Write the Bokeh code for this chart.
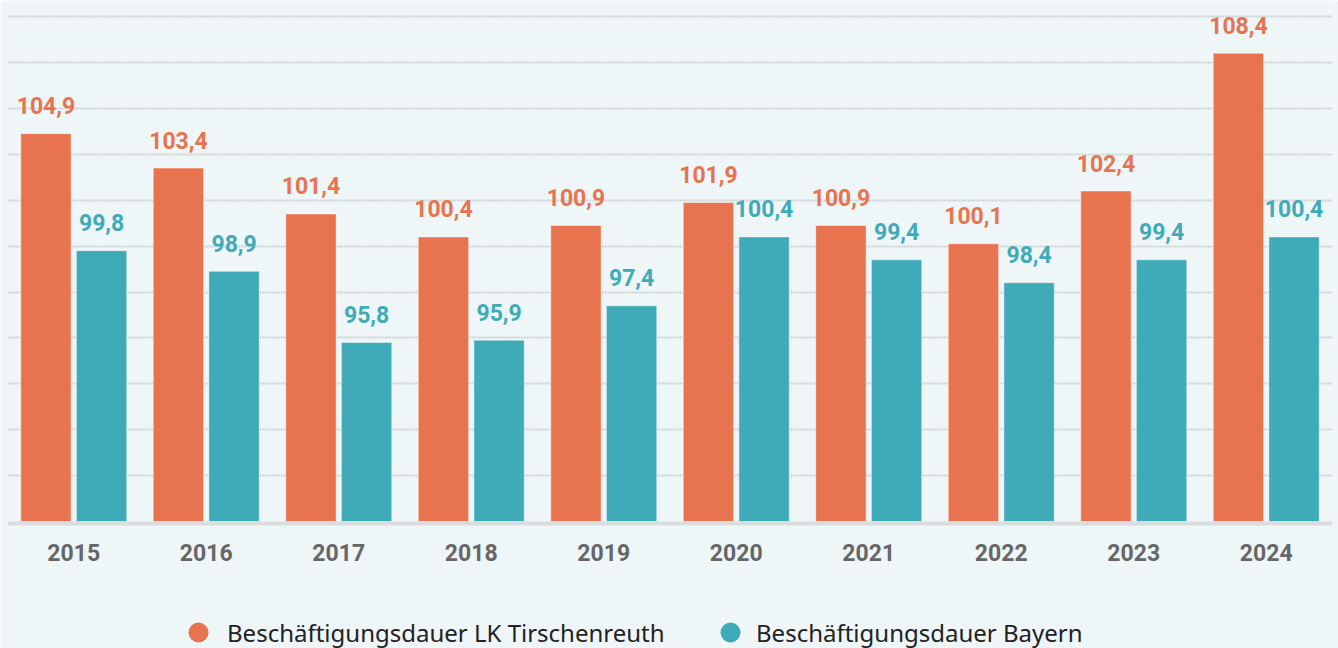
from bokeh.plotting import figure
from bokeh.models import ColumnDataSource, FactorRange, Range1d, FixedTicker, Legend, LegendItem
from bokeh.transform import dodge
from bokeh.core.properties import value
from bokeh.embed import file_html
from bokeh.resources import INLINE

# ---- data ----
years = ["2015", "2016", "2017", "2018", "2019", "2020", "2021", "2022", "2023", "2024"]
lk_values = [104.9, 103.4, 101.4, 100.4, 100.9, 101.9, 100.9, 100.1, 102.4, 108.4]
by_values = [99.8, 98.9, 95.8, 95.9, 97.4, 100.4, 99.4, 98.4, 99.4, 100.4]
series_names = ["Beschäftigungsdauer LK Tirschenreuth", "Beschäftigungsdauer Bayern"]
grid_ticks = [90, 92, 94, 96, 98, 100, 102, 104, 106, 108, 110]
baseline = 88

ORANGE = "#E8744F"
TEAL = "#3FABB8"
BG = "#EEF6F8"


def fmt(v):
    return f"{v:.1f}".replace(".", ",")


src = ColumnDataSource(dict(
    year=years,
    lk=lk_values,
    by=by_values,
    lk_label=[fmt(v) for v in lk_values],
    by_label=[fmt(v) for v in by_values],
))

px_per_unit = 22.95
H = 648
base_px = 521  # pixel row of the bar baseline
p = figure(
    x_range=FactorRange(*years),
    y_range=Range1d(baseline - (H - base_px) / px_per_unit, baseline + base_px / px_per_unit),
    width=1338, height=H,
    output_backend="svg", toolbar_location=None,
    y_axis_location=None,
    min_border_left=7, min_border_right=6, min_border_top=0, min_border_bottom=0,
    background_fill_color=BG, border_fill_color=BG, outline_line_color=None,
)

p.xgrid.visible = False
p.ygrid.ticker = FixedTicker(ticks=grid_ticks)
p.ygrid.grid_line_color = "#CDD1D3"
p.ygrid.grid_line_dash = "2 1"
p.ygrid.grid_line_width = 2

bw = 0.38
x_lk = dodge("year", -0.21, range=p.x_range)
x_by = dodge("year", 0.21, range=p.x_range)
r_lk = p.vbar(x=x_lk, top="lk", bottom=baseline, width=bw,
              source=src, fill_color=ORANGE, line_color="white", line_alpha=0.45, line_width=1)
r_by = p.vbar(x=x_by, top="by", bottom=baseline, width=bw,
              source=src, fill_color=TEAL, line_color="white", line_alpha=0.45, line_width=1)

p.text(x=x_lk, y="lk", text="lk_label", source=src,
       text_align="center", text_baseline="middle", y_offset=-28,
       text_font=value("Roboto"), text_font_style="bold", text_font_size="23px", text_color=ORANGE)
p.text(x=x_by, y="by", text="by_label", source=src,
       text_align="center", text_baseline="middle", y_offset=-28,
       text_font=value("Roboto"), text_font_style="bold", text_font_size="23px", text_color=TEAL)

ax = p.xaxis[0]
ax.fixed_location = baseline - 2 / px_per_unit
ax.axis_line_color = "#DADDDE"
ax.axis_line_width = 4
ax.major_tick_line_color = None
ax.minor_tick_line_color = None
ax.major_label_standoff = 14
ax.major_label_text_font = "Roboto"
ax.major_label_text_font_style = "bold"
ax.major_label_text_font_size = "23px"
ax.major_label_text_color = "#666666"

# hidden marker renderers, used only for the round legend symbols
m_lk = p.scatter(x=x_lk, y="lk", source=src, marker="circle", size=20,
                 fill_color=ORANGE, line_color=None, visible=False)
m_by = p.scatter(x=x_by, y="by", source=src, marker="circle", size=20,
                 fill_color=TEAL, line_color=None, visible=False)

common = dict(glyph_width=50, glyph_height=50, padding=0, margin=0, border_line_color=None,
              background_fill_alpha=0, label_text_font="Noto Sans", label_text_font_size="24px",
              label_text_color="#222222", inactive_fill_alpha=0)
leg1 = Legend(items=[LegendItem(label=series_names[0], renderers=[m_lk])],
              location=(166, -9), label_standoff=4, **common)
leg2 = Legend(items=[LegendItem(label=series_names[1], renderers=[m_by])],
              location=(698, -9), label_standoff=1, **common)
p.add_layout(leg1, "center")
p.add_layout(leg2, "center")

open("out.html", "w").write(file_html(p, INLINE))
